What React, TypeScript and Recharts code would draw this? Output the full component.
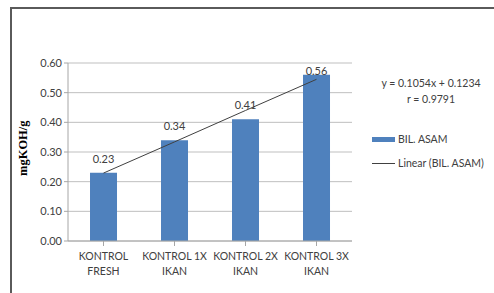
import React from 'react';
import { ComposedChart, Bar, Line, XAxis, YAxis, CartesianGrid, LabelList } from 'recharts';

const categories = ['KONTROL FRESH', 'KONTROL 1X IKAN', 'KONTROL 2X IKAN', 'KONTROL 3X IKAN'];
const bilAsam = [0.23, 0.34, 0.41, 0.56];
// trendline (y = 0.1054x + 0.1234)
const trend = [0.229, 0.334, 0.44, 0.545];
const yTicks = [0, 0.1, 0.2, 0.3, 0.4, 0.5, 0.6];

const data = categories.map((name, i) => ({ name, asam: bilAsam[i], trend: trend[i] }));

const FONT = 'Lato, "Open Sans", sans-serif';
const TEXT = '#404040';

const CategoryTick: React.FC<any> = ({ x, y, payload }) => {
  const words = String(payload.value).split(' ');
  const lines = words.length > 2 ? [words.slice(0, 2).join(' '), words.slice(2).join(' ')] : [words[0], words[1]];
  return (
    <text x={x} y={y} textAnchor="middle" fill={TEXT} fontSize={10.5} fontFamily={FONT}>
      {lines.map((l, i) => (
        <tspan key={i} x={x} dy={i === 0 ? 12 : 15}>{l}</tspan>
      ))}
    </text>
  );
};

const ValueLabel: React.FC<any> = ({ x, y, width, value }) => (
  <text x={x + width / 2} y={Math.max(y - 10, 75)} textAnchor="middle" fill={TEXT} fontSize={11} fontFamily={FONT}>
    {Number(value).toFixed(2)}
  </text>
);

export default function App() {
  return (
    <div style={{ position: 'absolute', left: 0, top: 0, width: 494, height: 293, background: '#fff', overflow: 'hidden' }}>
      <div style={{ position: 'absolute', left: 10, top: 7, width: 520, height: 320, borderLeft: '2px solid #5a5a5a', borderTop: '2px solid #5a5a5a' }} />
      <ComposedChart width={494} height={293} data={data} margin={{ top: 63, right: 142, bottom: 22, left: 0 }} barCategoryGap="31%">
        <CartesianGrid vertical={false} stroke="#bfbfbf" />
        <XAxis dataKey="name" interval={0} height={30} tick={<CategoryTick />} stroke="#a6a6a6" tickSize={5} tickLine={{ stroke: '#a6a6a6' }} />
        <YAxis
          width={68}
          domain={[0, 0.6]}
          ticks={yTicks}
          tickFormatter={(v: number) => v.toFixed(2)}
          tick={{ fill: TEXT, fontSize: 11, fontFamily: FONT }}
          stroke="#a6a6a6"
          tickSize={4}
          label={{ value: 'mgKOH/g', angle: -90, position: 'insideLeft', dx: 18, dy: 24, style: { fontFamily: '"Liberation Serif", serif', fontWeight: 'bold', fontSize: 12.5, fill: '#000' } }}
        />
        <Bar dataKey="asam" name="BIL. ASAM" fill="#4f81bd" isAnimationActive={false}>
          <LabelList dataKey="asam" content={<ValueLabel />} />
        </Bar>
        <Line dataKey="trend" name="Linear (BIL. ASAM)" type="linear" stroke="#404040" strokeWidth={1} dot={false} isAnimationActive={false} />
      </ComposedChart>
      <div style={{ position: 'absolute', left: 371, top: 75, width: 120, textAlign: 'center', fontFamily: FONT, fontSize: 10.5, color: TEXT, lineHeight: '16px' }}>
        <div>y = 0.1054x + 0.1234</div>
        <div>r = 0.9791</div>
      </div>
      <div style={{ position: 'absolute', left: 372, top: 131, fontFamily: FONT, fontSize: 10.5, color: TEXT }}>
        <div style={{ display: 'flex', alignItems: 'center', height: 16 }}>
          <span style={{ display: 'inline-block', width: 23, height: 5, background: '#4f81bd', marginRight: 3 }} />
          BIL. ASAM
        </div>
        <div style={{ display: 'flex', alignItems: 'center', height: 16, marginTop: 8 }}>
          <span style={{ display: 'inline-block', width: 23, height: 1, background: '#404040', marginRight: 3 }} />
          Linear (BIL. ASAM)
        </div>
      </div>
    </div>
  );
}
